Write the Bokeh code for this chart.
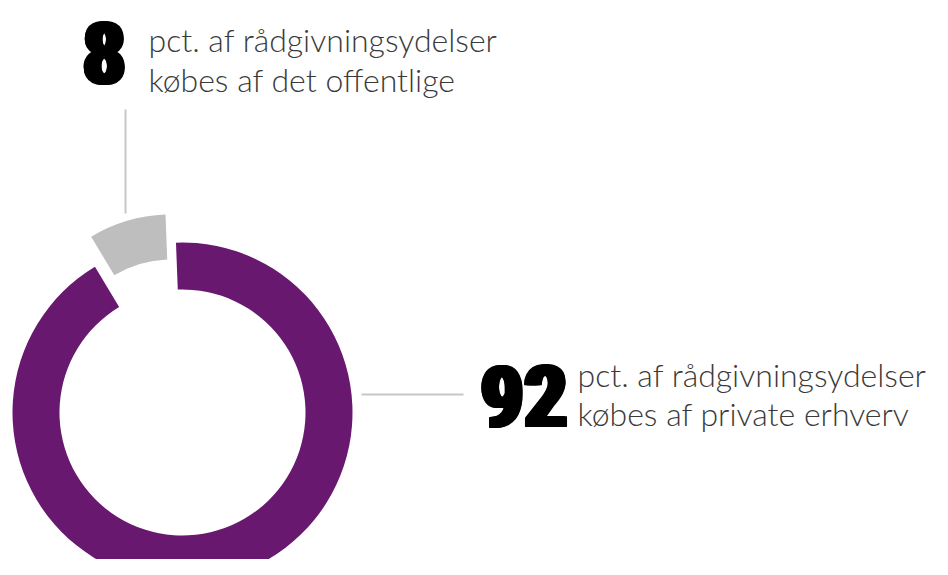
from bokeh.plotting import figure
from bokeh.models import Range1d
from bokeh.core.properties import value
from bokeh.embed import file_html
from bokeh.resources import INLINE
import math

# ---- data ----
categories = ["det offentlige", "private erhverv"]
shares = [8, 92]
big_labels = ["8", "92"]
line1 = ["pct. af rådgivningsydelser", "pct. af rådgivningsydelser"]
line2 = ["købes af det offentlige", "købes af private erhverv"]
colors = ["#BEBEBE", "#69186F"]

W, H = 932, 559
p = figure(width=W, height=H, output_backend="svg", toolbar_location=None,
           x_range=Range1d(0, W), y_range=Range1d(0, H),
           min_border=0, outline_line_color=None, background_fill_color="white",
           border_fill_color="white")
p.axis.visible = False
p.grid.visible = False

def fx(rx):
    return rx

def fy(ry):
    return H - ry

# angles from data
total = sum(shares)
gray_span = shares[0] / total * 2 * math.pi
start = math.radians(92.2)
gray_start, gray_end = start, start + gray_span
purple_start, purple_end = gray_end, start + 2 * math.pi

# main ring (private)
p.annular_wedge(x=[fx(182)], y=[fy(412)], inner_radius=123, outer_radius=170,
                start_angle=[purple_start], end_angle=[purple_end],
                fill_color=colors[1], line_color=None)
# exploded slice (public)
p.annular_wedge(x=[fx(171)], y=[fy(370)], inner_radius=111, outer_radius=156,
                start_angle=[gray_start], end_angle=[gray_end],
                fill_color=colors[0], line_color=None)

# leader lines
p.line(x=[fx(125), fx(125)], y=[fy(109), fy(213)], line_color="#C8C8C8", line_width=2)
p.line(x=[fx(361), fx(463)], y=[fy(394), fy(394)], line_color="#C8C8C8", line_width=2)

big_font = value("Roboto Condensed")
light_font = value("Lato Light")

# heavy digits: several slightly shifted copies to thicken the strokes
offs = [(dx, dy) for dx in (0, 1.5, 3, 4.5, 6) for dy in (0, -1.5)]

def big_text(x, y, label, align):
    n = len(offs)
    p.text(x=[x] * n, y=[y] * n, text=[label] * n,
           x_offset=[o[0] for o in offs], y_offset=[o[1] for o in offs],
           text_font=big_font, text_font_size="86px", text_font_style="bold",
           text_color="black", text_baseline="alphabetic", text_align=align)

def light_text(x, y, s):
    p.text(x=[x], y=[y], text=[s], text_font=light_font,
           text_font_size="32px", text_color="#3A3A3A", text_baseline="alphabetic")

# label 1
big_text(fx(79), fy(53), big_labels[0], "left")
light_text(fx(148), fy(39), line1[0])
light_text(fx(148), fy(79), line2[0])

# label 2
big_text(fx(564), fy(396), big_labels[1], "right")
light_text(fx(577), fy(374), line1[1])
light_text(fx(577), fy(413), line2[1])

open("out.html", "w").write(file_html(p, INLINE))
